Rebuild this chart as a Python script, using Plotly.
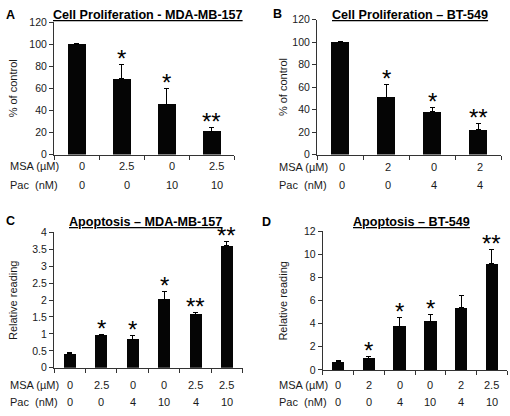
import plotly.graph_objects as go

W, H = 510, 416

# ---------------- data ----------------
a_vals = [100, 68.6, 45.5, 21.3]
a_err = [0.4, 12.6, 14.8, 2.9]
a_stars = ["", "*", "*", "**"]
a_msa = ["0", "2.5", "0", "2.5"]
a_pac = ["0", "0", "10", "10"]
a_ticks = [0, 20, 40, 60, 80, 100, 120]

b_vals = [100, 51, 38, 22]
b_err = [0.4, 11, 3.6, 5.2]
b_stars = ["", "*", "*", "**"]
b_msa = ["0", "2", "0", "2"]
b_pac = ["0", "0", "4", "4"]
b_ticks = [0, 20, 40, 60, 80, 100, 120]

c_vals = [0.42, 0.96, 0.84, 2.02, 1.58, 3.6]
c_err = [0.03, 0.03, 0.1, 0.22, 0.06, 0.12]
c_stars = ["", "*", "*", "*", "**", "**"]
c_msa = ["0", "2.5", "0", "0", "2.5", "2.5"]
c_pac = ["0", "0", "4", "10", "4", "10"]
c_ticks = [0, 0.5, 1, 1.5, 2, 2.5, 3, 3.5, 4]

d_vals = [0.7, 1.0, 3.8, 4.2, 5.4, 9.2]
d_err = [0.07, 0.12, 0.75, 0.6, 1.05, 1.2]
d_stars = ["", "*", "*", "*", "", "**"]
d_msa = ["0", "2", "0", "0", "2", "2.5"]
d_pac = ["0", "0", "4", "10", "4", "10"]
d_ticks = [0, 2, 4, 6, 8, 10, 12]

titles = ["Cell Proliferation - MDA-MB-157", "Cell Proliferation \u2013 BT-549",
          "Apoptosis \u2013 MDA-MB-157", "Apoptosis \u2013 BT-549"]
letters = ["A", "B", "C", "D"]
ytitles = ["% of control", "% of control", "Relative reading", "Relative reading"]
row_names = ["MSA (\u00b5M)", "Pac  (nM)"]

# ---------------- layout geometry (pixels) ----------------
FONT = "Liberation Sans, Arial, sans-serif"
panels = [
    dict(vals=a_vals, err=a_err, stars=a_stars, msa=a_msa, pac=a_pac, ticks=a_ticks,
         x0=54, x1=234, y0=153, y1=16.6, ymax=120, bw=0.4, lab_dx=5,
         title_x=148, title_y=9, letter=(4, 9), ytitle_x=13, row_x=8, row_y=(165, 184)),
    dict(vals=b_vals, err=b_err, stars=b_stars, msa=b_msa, pac=b_pac, ticks=b_ticks,
         x0=317, x1=501, y0=153, y1=14, ymax=120, bw=0.4, lab_dx=2,
         title_x=410, title_y=9, letter=(271, 8), ytitle_x=283, row_x=277, row_y=(166, 184)),
    dict(vals=c_vals, err=c_err, stars=c_stars, msa=c_msa, pac=c_pac, ticks=c_ticks,
         x0=54, x1=242.7, y0=372.5, y1=233, ymax=4, bw=0.38, lab_dx=0,
         title_x=145, title_y=222, letter=(4, 221), ytitle_x=13, row_x=8, row_y=(390, 408)),
    dict(vals=d_vals, err=d_err, stars=d_stars, msa=d_msa, pac=d_pac, ticks=d_ticks,
         x0=322.7, x1=507.3, y0=374.7, y1=232, ymax=12, bw=0.41, lab_dx=0,
         title_x=411, title_y=222, letter=(260, 222), ytitle_x=283, row_x=277, row_y=(390, 408)),
]

fig = go.Figure()
annotations = []
layout = {}

for i, p in enumerate(panels):
    sfx = "" if i == 0 else str(i + 1)
    xa, ya = "x" + sfx, "y" + sfx
    n = len(p["vals"])
    xs = list(range(n))
    fig.add_trace(go.Bar(
        x=xs, y=p["vals"], xaxis=xa, yaxis=ya, width=p["bw"],
        marker=dict(color="#050505", line=dict(width=0)),
        error_y=dict(type="data", array=p["err"], arrayminus=[0] * n, symmetric=False,
                     color="#000000", thickness=1, width=2.5),
        showlegend=False, hoverinfo="skip"))
    layout["xaxis" + sfx] = dict(
        domain=[p["x0"] / W, p["x1"] / W], anchor=ya, range=[-0.5, n - 0.5],
        showline=True, linecolor="#333", linewidth=1, ticks="outside", ticklen=4,
        tickcolor="#333", tickvals=[k - 0.5 for k in range(n + 1)],
        showticklabels=False, showgrid=False, zeroline=False, fixedrange=True)
    layout["yaxis" + sfx] = dict(
        domain=[1 - p["y0"] / H, 1 - p["y1"] / H], anchor=xa, range=[0, p["ymax"]],
        showline=True, linecolor="#333", linewidth=1, ticks="outside", ticklen=4,
        tickcolor="#333", tickvals=p["ticks"], ticktext=[str(t) for t in p["ticks"]],
        tickfont=dict(family=FONT, size=10.5, color="#1a1a1a"), showgrid=False,
        zeroline=False, fixedrange=True)
    # title
    annotations.append(dict(text="<b><u>" + titles[i] + "</u></b>", xref="paper", yref="paper",
                            x=p["title_x"] / W, y=1 - p["title_y"] / H, xanchor="center",
                            yanchor="middle", showarrow=False,
                            font=dict(family=FONT, size=12.6, color="#000")))
    annotations.append(dict(text="<b>" + letters[i] + "</b>", xref="paper", yref="paper",
                            x=p["letter"][0] / W, y=1 - p["letter"][1] / H, xanchor="left",
                            yanchor="middle", showarrow=False,
                            font=dict(family=FONT, size=12.5, color="#000")))
    # y-axis title
    annotations.append(dict(text=ytitles[i], xref="paper", yref="paper",
                            x=p["ytitle_x"] / W, y=1 - (p["y0"] + p["y1"]) / 2 / H,
                            xanchor="center", yanchor="middle", textangle=-90, showarrow=False,
                            font=dict(family=FONT, size=11, color="#1a1a1a")))
    # row labels
    for r, rn in enumerate(row_names):
        annotations.append(dict(text=rn, xref="paper", yref="paper",
                                x=p["row_x"] / W, y=1 - p["row_y"][r] / H, xanchor="left",
                                yanchor="middle", showarrow=False,
                                font=dict(family=FONT, size=11, color="#1a1a1a")))
    for k in range(n):
        for r, lst in enumerate([p["msa"], p["pac"]]):
            annotations.append(dict(text=lst[k], xref=xa, yref="paper", x=k,
                                    xshift=p["lab_dx"], y=1 - p["row_y"][r] / H,
                                    xanchor="center", yanchor="middle", showarrow=False,
                                    font=dict(family=FONT, size=11, color="#1a1a1a")))
        if p["stars"][k]:
            annotations.append(dict(text=p["stars"][k], xref=xa, yref=ya, x=k,
                                    y=p["vals"][k] + p["err"][k], yshift=6,
                                    xanchor="center", yanchor="middle", showarrow=False,
                                    font=dict(family=FONT, size=24, color="#000")))

fig.update_layout(**layout)
fig.update_layout(width=W, height=H, margin=dict(l=0, r=0, t=0, b=0),
                  plot_bgcolor="white", paper_bgcolor="white",
                  annotations=annotations, bargap=0)
fig.write_html("out.html", config={"displayModeBar": False, "staticPlot": True},
               post_script="document.body.style.margin='0';document.body.style.overflow='hidden';")
